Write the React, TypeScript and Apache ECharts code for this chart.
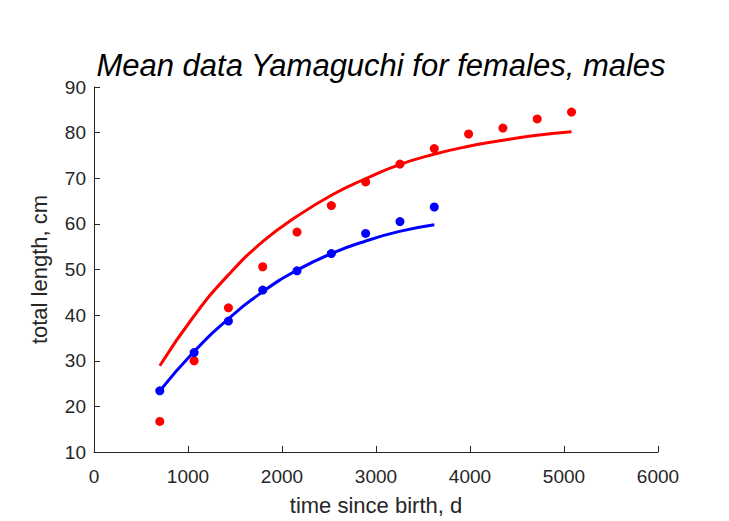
import React, { useEffect, useRef } from "react";
import * as echarts from "echarts";

const titleText = "Mean data Yamaguchi for females, males";
const xName = "time since birth, d";
const yName = "total length, cm";

const femaleDays = [700, 1065, 1430, 1795, 2160, 2525, 2890, 3255, 3620, 3985, 4350, 4715, 5080];
const femaleLength = [16.7, 30.0, 41.6, 50.6, 58.2, 64.0, 69.2, 73.1, 76.5, 79.7, 81.0, 83.0, 84.5];

const maleDays = [700, 1065, 1430, 1795, 2160, 2525, 2890, 3255, 3620];
const maleLength = [23.4, 31.8, 38.7, 45.5, 49.7, 53.5, 57.9, 60.5, 63.7];

const femaleFitDays = [700, 1060, 1420, 1800, 2155, 2545, 2900, 3250, 3605, 3960, 4315, 4670, 5080];
const femaleFitLength = [28.9, 39.7, 48.6, 56.2, 61.6, 66.5, 70.0, 73.0, 75.2, 76.9, 78.2, 79.3, 80.2];

const maleFitDays = [700, 1055, 1425, 1800, 2155, 2525, 2900, 3250, 3620];
const maleFitLength = [23.4, 31.8, 39.1, 45.2, 49.8, 53.5, 56.3, 58.35, 59.8];

const xTickLabel = (v: number) => String(v);

const zip = (xs: number[], ys: number[]) => xs.map((x, i) => [x, ys[i]]);

const FONT = "'Liberation Sans', Arial, Helvetica, sans-serif";
const AXIS = "#262626";

export default function App() {
  const ref = useRef<HTMLDivElement>(null);
  useEffect(() => {
    document.body.style.margin = "0";
    const chart = echarts.init(ref.current!, undefined, { renderer: "svg" });
    chart.setOption({
      animation: false,
      backgroundColor: "#ffffff",
      title: {
        text: titleText,
        left: 376,
        textAlign: "center",
        top: 45,
        textStyle: {
          fontFamily: FONT,
          fontStyle: "italic",
          fontWeight: "normal",
          fontSize: 31,
          color: "#000000",
        },
      },
      grid: { left: 94, top: 87, width: 564, height: 366, containLabel: false },
      xAxis: {
        type: "value",
        min: 0,
        max: 6000,
        interval: 1000,
        name: xName,
        nameLocation: "middle",
        nameGap: 42,
        nameTextStyle: { fontFamily: FONT, fontSize: 22, color: AXIS },
        axisLine: { show: true, lineStyle: { color: AXIS, width: 1 } },
        axisTick: { show: true, inside: true, length: 6, lineStyle: { color: AXIS } },
        axisLabel: { fontFamily: FONT, fontSize: 19, color: AXIS, margin: 15, formatter: xTickLabel },
        splitLine: { show: false },
      },
      yAxis: {
        type: "value",
        min: 10,
        max: 90,
        interval: 10,
        name: yName,
        nameLocation: "middle",
        nameGap: 44,
        nameTextStyle: { fontFamily: FONT, fontSize: 22, color: AXIS },
        axisLine: { show: true, lineStyle: { color: AXIS, width: 1 } },
        axisTick: { show: true, inside: true, length: 6, lineStyle: { color: AXIS } },
        axisLabel: { fontFamily: FONT, fontSize: 19, color: AXIS, margin: 8 },
        splitLine: { show: false },
      },
      series: [
        {
          type: "line",
          data: zip(femaleFitDays, femaleFitLength),
          smooth: 0.5,
          showSymbol: false,
          lineStyle: { color: "#ff0000", width: 3 },
          z: 2,
        },
        {
          type: "line",
          data: zip(maleFitDays, maleFitLength),
          smooth: 0.5,
          showSymbol: false,
          lineStyle: { color: "#0000ff", width: 3 },
          z: 2,
        },
        {
          type: "scatter",
          data: zip(femaleDays, femaleLength),
          symbol: "circle",
          symbolSize: 9,
          itemStyle: { color: "#ff0000", opacity: 1 },
          z: 3,
        },
        {
          type: "scatter",
          data: zip(maleDays, maleLength),
          symbol: "circle",
          symbolSize: 9,
          itemStyle: { color: "#0000ff", opacity: 1 },
          z: 3,
        },
      ],
    });
    return () => chart.dispose();
  }, []);
  return (
    <div
      ref={ref}
      style={{ position: "absolute", left: 0, top: 0, width: 729, height: 521 }}
    />
  );
}
